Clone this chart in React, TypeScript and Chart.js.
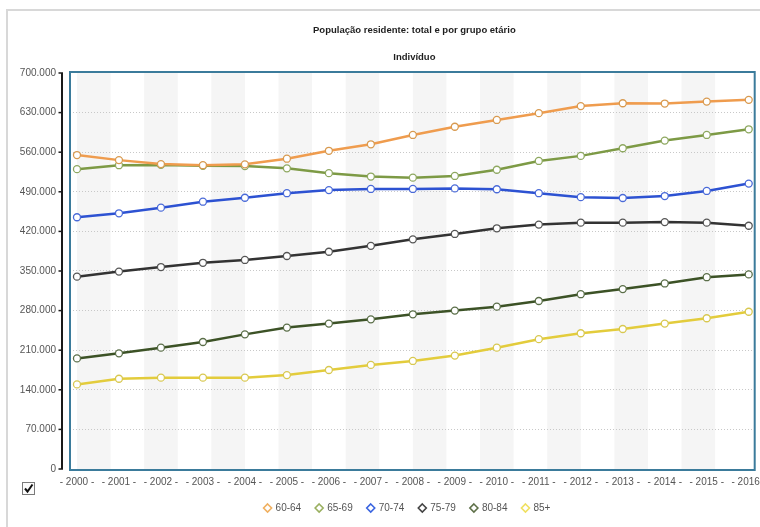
import React, { useEffect, useRef } from "react";
import { Chart, registerables } from "chart.js";
Chart.register(...registerables);

const chartTitle = "População residente: total e por grupo etário";
const chartSubtitle = "Indivíduo";
const years = [2000, 2001, 2002, 2003, 2004, 2005, 2006, 2007, 2008, 2009, 2010, 2011, 2012, 2013, 2014, 2015, 2016];
const groups = ["60-64", "65-69", "70-74", "75-79", "80-84", "85+"];
const yTicks = [0, 70000, 140000, 210000, 280000, 350000, 420000, 490000, 560000, 630000, 700000];

const g6064 = [555000, 546000, 539000, 537000, 538500, 548500, 562500, 574000, 590500, 605000, 617000, 629000, 641500, 646500, 646000, 649500, 652500];
const g6569 = [530000, 537000, 537500, 536000, 535500, 531500, 523000, 517000, 515000, 518000, 529000, 544500, 553500, 567000, 580500, 590500, 600500];
const g7074 = [445000, 452000, 462000, 472500, 479500, 487500, 493000, 495000, 495000, 496000, 494500, 487500, 480500, 479000, 482500, 491500, 504500];
const g7579 = [340000, 349000, 357000, 364500, 369500, 376500, 384000, 394500, 406000, 415500, 425500, 432000, 435500, 435500, 436500, 435500, 430000];
const g8084 = [195500, 204500, 214500, 224500, 238000, 250000, 257000, 264500, 273500, 280000, 287000, 297000, 309000, 318000, 328000, 339000, 344000];
const g85 = [149500, 159500, 161500, 161500, 161500, 166000, 175000, 184000, 191000, 200500, 214500, 229500, 240000, 247500, 257000, 266500, 278000];

const series = [g6064, g6569, g7074, g7579, g8084, g85];
const lineColors = ["#ef9c4e", "#7d9a45", "#2d52d2", "#333333", "#3c5226", "#e3cc3c"];
const pointBorders = ["#d89a50", "#8ea860", "#4a6ad8", "#555555", "#5a6e48", "#d8c850"];
const legendColors = ["#f0b060", "#9ab060", "#3a64e0", "#444444", "#5e7048", "#f0e060"];

const fmt = (v: number) => String(v).replace(/\B(?=(\d{3})+(?!\d))/g, ".");
const FONT = '"Liberation Sans", Arial, sans-serif';

const decorPlugin = {
  id: "decor",
  beforeDraw(chart: any) {
    const { ctx, chartArea: ca, scales } = chart;
    const x = scales.x;
    ctx.save();
    ctx.strokeStyle = "#d8d8d8";
    ctx.lineWidth = 2;
    ctx.strokeRect(7, 10, 900, 700);
    ctx.fillStyle = "#f5f5f5";
    for (let k = 0; k < 10; k++) {
      const a = years[0] + 1.6 * k;
      const x0 = x.getPixelForValue(a);
      const x1 = Math.min(x.getPixelForValue(a + 0.8), ca.right);
      if (x0 < ca.right) ctx.fillRect(x0, ca.top, x1 - x0, ca.bottom - ca.top);
    }
    ctx.restore();
  },
  beforeDatasetsDraw(chart: any) {
    const { ctx, chartArea: ca, scales } = chart;
    const y = scales.y;
    ctx.save();
    ctx.strokeStyle = "#3b7b9b";
    ctx.lineWidth = 2;
    ctx.strokeRect(ca.left, ca.top, ca.right - ca.left, ca.bottom - ca.top);
    const ax = ca.left - 8;
    const yTop = y.getPixelForValue(yTicks[yTicks.length - 1]);
    const yBot = y.getPixelForValue(yTicks[0]);
    ctx.strokeStyle = "#1a1a1a";
    ctx.lineWidth = 2;
    ctx.beginPath();
    ctx.moveTo(ax, yTop);
    ctx.lineTo(ax, yBot);
    ctx.stroke();
    ctx.lineWidth = 1.5;
    for (const t of yTicks) {
      const py = y.getPixelForValue(t);
      ctx.beginPath();
      ctx.moveTo(ax - 3.5, py);
      ctx.lineTo(ax + 1, py);
      ctx.stroke();
    }
    ctx.restore();
  },
  afterDraw(chart: any) {
    const { ctx, chartArea: ca } = chart;
    const cx = (ca.left + ca.right) / 2;
    ctx.save();
    ctx.fillStyle = "#1e1e1e";
    ctx.textAlign = "center";
    ctx.textBaseline = "middle";
    ctx.font = `bold 9.5px ${FONT}`;
    ctx.fillText(chartTitle, cx + 2, 30);
    ctx.fillText(chartSubtitle, cx + 2, 57);

    ctx.font = `10px ${FONT}`;
    const widths = groups.map((g) => ctx.measureText(g).width);
    const step = (i: number) => 12 + widths[i] + 14;
    let total = 0;
    groups.forEach((_, i) => (total += step(i)));
    total -= 14;
    let lx = 407 - total / 2;
    const ly = 508;
    ctx.textAlign = "left";
    groups.forEach((g, i) => {
      const dx = lx + 4;
      ctx.beginPath();
      ctx.moveTo(dx, ly - 4);
      ctx.lineTo(dx + 4, ly);
      ctx.lineTo(dx, ly + 4);
      ctx.lineTo(dx - 4, ly);
      ctx.closePath();
      ctx.fillStyle = "#ffffff";
      ctx.fill();
      ctx.strokeStyle = legendColors[i];
      ctx.lineWidth = 1.6;
      ctx.stroke();
      ctx.fillStyle = "#555555";
      ctx.fillText(g, lx + 12, ly + 0.5);
      lx += step(i);
    });

    ctx.fillStyle = "#fbfbfb";
    ctx.fillRect(22.5, 482.5, 12, 12);
    ctx.strokeStyle = "#7a7a7a";
    ctx.lineWidth = 1;
    ctx.strokeRect(22.5, 482.5, 12, 12);
    ctx.strokeStyle = "#111";
    ctx.lineWidth = 2;
    ctx.beginPath();
    ctx.moveTo(25, 488.5);
    ctx.lineTo(27.5, 491.5);
    ctx.lineTo(32.5, 484.5);
    ctx.stroke();
    ctx.restore();
  },
};

export default function App() {
  const ref = useRef<HTMLCanvasElement | null>(null);
  useEffect(() => {
    if (!ref.current) return;
    const chart = new Chart(ref.current, {
      type: "line",
      data: {
        datasets: series.map((arr, i) => ({
          label: groups[i],
          data: years.map((yr, j) => ({ x: yr, y: arr[j] })),
          borderColor: lineColors[i],
          backgroundColor: lineColors[i],
          borderWidth: 2.5,
          pointRadius: 3.5,
          pointBorderWidth: 1.3,
          pointBackgroundColor: "#ffffff",
          pointBorderColor: pointBorders[i],
          tension: 0,
          fill: false,
        })),
      },
      options: {
        responsive: false,
        animation: false,
        devicePixelRatio: 1,
        layout: { padding: { top: 72, right: 3, bottom: 0, left: 0 } },
        plugins: {
          legend: { display: false },
          title: { display: false },
          tooltip: { enabled: false },
        },
        scales: {
          x: {
            type: "linear",
            min: years[0] - 7 / 42.125,
            max: years[years.length - 1] + 6 / 42.125,
            afterBuildTicks: (s: any) => {
              s.ticks = years.map((v) => ({ value: v }));
            },
            afterFit: (s: any) => {
              s.height = 57;
              s.paddingLeft = 0;
              s.paddingRight = 0;
            },
            grid: { display: false, drawTicks: false },
            border: { display: false },
            ticks: {
              autoSkip: false,
              maxRotation: 0,
              padding: 6,
              color: "#555",
              font: { size: 10, family: FONT },
              callback: (v: any) => `- ${v} -`,
            },
          },
          y: {
            type: "linear",
            min: -700000 / 396,
            max: 700000 + 700000 / 396,
            afterBuildTicks: (s: any) => {
              s.ticks = yTicks.map((v) => ({ value: v }));
            },
            afterFit: (s: any) => {
              s.width = 70;
              s.paddingTop = 0;
              s.paddingBottom = 0;
            },
            grid: { color: "#c8c8c8", drawTicks: false, lineWidth: 1 },
            border: { display: false, dash: [1, 2] },
            ticks: {
              padding: 14,
              color: "#555",
              font: { size: 10, family: FONT },
              callback: (v: any) => fmt(Number(v)),
            },
          },
        },
      },
      plugins: [decorPlugin],
    });
    return () => chart.destroy();
  }, []);
  return (
    <div style={{ position: "fixed", left: 0, top: 0, width: 760, height: 527, background: "#fff" }}>
      <canvas ref={ref} width={760} height={527} style={{ display: "block" }} />
    </div>
  );
}
